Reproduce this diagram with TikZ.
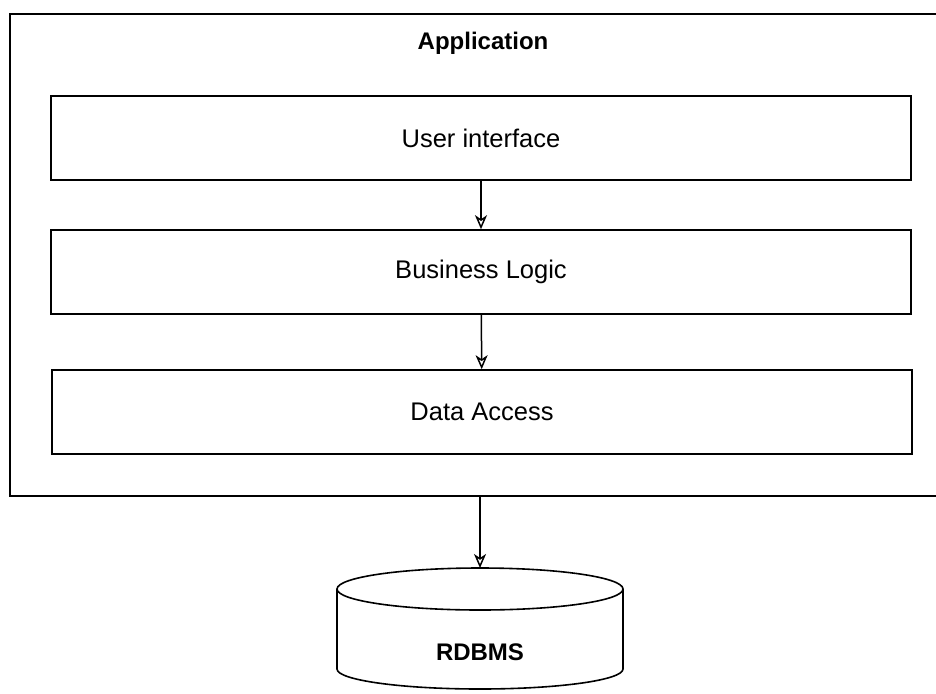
\documentclass[tikz,border=0pt]{standalone}
\usepackage{fontspec}
\setmainfont{Liberation Sans}
\usetikzlibrary{arrows.meta}

\tikzset{
  layer/.style={draw,line width=1.6pt,minimum width=860pt,minimum height=84pt,font=\fontsize{25.5}{30}\selectfont},
  arr/.style={line width=1.5pt,-{Stealth[open,length=14pt,width=12pt,inset=4pt]}}
}

\begin{document}
\begin{tikzpicture}[x=1pt,y=-1pt]
   \useasboundingbox (0,0) rectangle (936,693);
   \clip (0,0) rectangle (936,693);

   % application frame, runs past the right edge
   \node[draw,line width=1.6pt,minimum width=940pt,minimum height=482pt] (app) at (480,255) {};
   \node[font=\fontsize{24}{28}\selectfont\bfseries] (title) at (483,43) {Application};

   \node[layer] (ui) at (481,138) {User interface};
   \node[layer] (bl) at (481,272) {Business Logic};
   \node[layer] (da) at (482,412) {Data Access};

   \draw[arr] (ui) -- (bl);
   \draw[arr] (bl) -- (da);

   % database cylinder
   \coordinate (dbtop) at (480,568);
   \draw[line width=1.6pt] (480,589) ellipse (143 and 21);
   \draw[line width=1.6pt] (337,589) -- (337,669) arc[start angle=180,end angle=0,x radius=143,y radius=20] -- (623,589);
   \node[font=\fontsize{24}{28}\selectfont\bfseries] (db) at (480,652) {RDBMS};

   \draw[arr] (app.south -| dbtop) -- (dbtop);
\end{tikzpicture}
\end{document}
